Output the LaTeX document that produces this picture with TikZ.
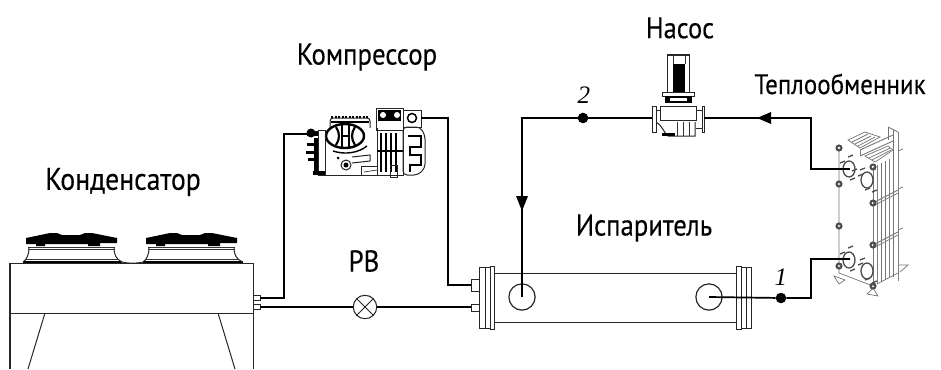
\documentclass[tikz,border=0pt]{standalone}
\usepackage{fontspec}
\setmainfont[FakeStretch=0.89,FakeBold=0.25]{PT Sans}
\newfontfamily\numfont{Liberation Serif}
\usepackage{tikz}
\usetikzlibrary{positioning,arrows}
\tikzset{
  pipe/.style={black,line width=1.7pt},
  part/.style={black!85,line width=1pt},
  fine/.style={black!80,line width=0.7pt},
  plate/.style={black!55,line width=0.7pt},
  rib/.style={black!50,line width=1pt},
  stud/.style={black!70,line width=1.3pt},
  boltnut/.style={black!70,line width=2pt},
  caption/.style={font=\fontsize{#1}{32}\selectfont},
  numlabel/.style={font=\numfont\itshape\fontsize{25}{29}\selectfont},
  junction/.style={circle,fill=black,minimum size=0.37cm},
  portcircle/.style={circle,draw=black!85,line width=1.2pt,minimum size=0.92cm},
  valvecircle/.style={circle,draw=black!85,line width=1pt,minimum size=0.82cm}
}
\begin{document}
\begin{tikzpicture}[x=0.035cm,y=0.035cm]
\tikzstyle{every node}+=[inner sep=0pt]
\useasboundingbox (0,0) rectangle (941,-369);
% captions
\draw (123,-182) node [caption=31] (kond) {Конденсатор};
\draw (367,-57) node [caption=30] (komp) {Компрессор};
\draw (680,-28) node [caption=29.5] (nasos) {Насос};
\draw (840,-84) node [caption=28] (teplo) {Теплообменник};
\draw (644,-228) node [caption=30] (isp) {Испаритель};
\draw (364,-261) node [caption=30] (rvtext) {РВ};
\draw (584,-95) node [numlabel] (num2) {2};
\draw (781,-277) node [numlabel] (num1) {1};
% condenser
\draw [part] (10,-369) -- (10,-263) -- (253,-263) -- (253,-369);
\draw [part] (10,-313) -- (253,-313);
\draw [part] (45,-313) -- (28,-369);
\draw [part] (218,-313) -- (235,-369);
\draw [part] (253,-295) rectangle (260,-300);
\draw [part] (253,-304) rectangle (260,-309);
\draw [black,line width=1.6pt] (23,-262) -- (122,-262);
\draw [black,line width=1.6pt] (143,-262) -- (243,-262);
\draw [part] (122,-262) .. controls (127,-263.5) and (138,-263.5) .. (143,-262);
% first fan
\fill [black] (26,-238) -- (50,-233) -- (57,-233) -- (62,-235) -- (80,-235) -- (85,-233) -- (92,-233) -- (117,-238) -- (117,-243) -- (100,-243) -- (100,-246) -- (88,-246) -- (88,-244) -- (45,-244) -- (45,-246) -- (36,-246) -- (36,-244) -- (26,-244) -- cycle;
\draw [fine] (28,-247) -- (115,-247);
\draw [part] (29,-247) .. controls (29,-255) and (27,-259) .. (23,-262);
\draw [part] (114,-247) .. controls (114,-255) and (116,-259) .. (122,-262);
\draw [fine] (28,-249) -- (115,-249);
\draw [fine] (26,-259) -- (118,-259);
% second fan
\fill [black] (146,-238) -- (170,-233) -- (177,-233) -- (182,-235) -- (200,-235) -- (205,-233) -- (212,-233) -- (237,-238) -- (237,-243) -- (220,-243) -- (220,-246) -- (208,-246) -- (208,-244) -- (165,-244) -- (165,-246) -- (156,-246) -- (156,-244) -- (146,-244) -- cycle;
\draw [fine] (148,-247) -- (235,-247);
\draw [part] (149,-247) .. controls (149,-255) and (147,-259) .. (143,-262);
\draw [part] (234,-247) .. controls (234,-255) and (236,-259) .. (243,-262);
\draw [fine] (148,-249) -- (235,-249);
\draw [fine] (146,-259) -- (238,-259);
% compressor
\draw [part] (325,-130) -- (325,-175) -- (377,-175);
\draw [part] (377,-175) -- (377,-128);
\draw [part,rounded corners=3pt] (330,-128) -- (330,-118) -- (370,-118) -- (370,-128);
\draw [black,line width=2pt,dash pattern=on 2pt off 1.5pt] (331,-117) -- (369,-117);
\draw [black,line width=1.4pt] (331,-122) -- (369,-122);
\draw [black,line width=2.4pt] (345,-136) ellipse (19 and 12);
\draw [black,line width=2.2pt] (336,-127) .. controls (340,-133) and (340,-139) .. (336,-145);
\draw [black,line width=2.2pt] (355,-127) .. controls (351,-133) and (351,-139) .. (355,-145);
\draw [black,line width=1.6pt] (342,-125) -- (342,-147);
\draw [black,line width=1.6pt] (349,-125) -- (349,-147);
\draw [black,line width=1.6pt] (342,-136) -- (349,-136);
\draw [black,line width=1.4pt] (333,-151) .. controls (345,-155) and (358,-153) .. (367,-146);
\draw [part] (346,-165) circle (5);
\fill [black] (346,-165) circle (2.5);
\draw [part] (352,-157) -- (370,-155) -- (370,-161) -- (352,-163);
\fill [black] (338,-158) circle (1.5);
\draw [part] (361,-175) -- (361,-166) -- (377,-166);
\draw [fine] (364,-172) -- (377,-170);
\draw [part] (318,-130) rectangle (325,-175);
\fill [black] (307,-131) rectangle (318,-136);
\fill [black] (311,-133) circle (4.5);
\fill [black] (314,-138) rectangle (318,-175);
\fill [black] (307,-143) rectangle (316,-146);
\fill [black] (306,-151) rectangle (316,-154);
\fill [black] (308,-158) rectangle (316,-161);
\fill [black] (313,-171) rectangle (325,-175);
\draw [part] (376,-108) rectangle (403,-130);
\fill [black] (378,-110) rectangle (401,-121);
\fill [white] (383,-115) circle (3);
\fill [white] (397,-115) circle (3);
\draw [part] (403,-110) rectangle (421,-127);
\draw [black,line width=1.5pt] (412,-118) circle (4.5);
\draw [part] (377,-130) rectangle (403,-175);
\draw [black,line width=1.3pt] (381,-133) -- (381,-172);
\draw [black,line width=1.3pt] (386,-133) -- (386,-172);
\draw [black,line width=1.3pt] (391,-133) -- (391,-172);
\draw [black,line width=1.3pt] (396,-133) -- (396,-172);
\draw [black,line width=1.3pt] (377,-151) -- (403,-151);
\draw [part] (390,-165) rectangle (397,-177);
\draw [part,rounded corners=4pt] (403,-127) -- (420,-127) -- (425,-135) -- (425,-168) -- (418,-175) -- (403,-175) -- cycle;
\draw [black,line width=1.3pt] (408,-136) -- (421,-136) -- (421,-147) -- (410,-147) -- (410,-155) -- (421,-155) -- (421,-165) -- (410,-165) -- (410,-172);
% evaporator
\draw [part] (494,-273) -- (736,-273);
\draw [part] (494,-322) -- (736,-322);
\draw [part] (479,-267) rectangle (490,-328);
\draw [part] (490,-266) rectangle (494,-329);
\draw [part] (485,-267) -- (485,-328);
\draw [part] (736,-266) rectangle (741,-329);
\draw [part] (741,-267) rectangle (751,-328);
\draw [part] (746,-267) -- (746,-328);
\draw [part] (471,-279) rectangle (479,-291);
\draw [part] (471,-304) rectangle (479,-311);
\node [portcircle] (evleft) at (522,-297) {};
\node [portcircle] (evright) at (709,-297) {};
% pump
\draw [part] (667,-55) rectangle (689,-92);
\fill [black] (673,-64) rectangle (685,-92);
\draw [fine] (673,-55) -- (673,-64);
\draw [fine] (685,-55) -- (685,-64);
\draw [part] (662,-92) rectangle (694,-96);
\fill [black] (665,-96) rectangle (692,-103);
\fill [white] (670,-98) rectangle (687,-101);
\draw [part] (660,-106) rectangle (696,-120);
\draw [part] (652,-106) rectangle (656,-132);
\draw [part] (702,-106) rectangle (704,-132);
\draw [part] (656,-110) -- (660,-110);
\draw [part] (696,-110) -- (702,-110);
\draw [part] (696,-128) -- (702,-128);
\draw [part] (656,-122) .. controls (662,-125) and (664,-133) .. (668,-136) -- (695,-136) -- (695,-122);
\fill [black] (662,-133) rectangle (675,-136);
\draw [fine] (677,-122) -- (677,-136);
\draw [fine] (683,-122) -- (683,-136);
\draw [fine] (689,-122) -- (689,-136);
% heat exchanger
\draw [plate] (839,-148) -- (839,-273) -- (873,-286);
\draw [plate] (873,-167) -- (873,-286);
\draw [rib] (877,-165) -- (877,-284);
\draw [plate] (881,-163) -- (881,-282);
\draw [plate] (885,-161) -- (885,-280);
\draw [rib] (889,-159) -- (889,-278);
\draw [plate] (893,-130) -- (893,-277);
\draw [rib] (898,-132) -- (898,-281);
\draw [plate] (888,-127) -- (888,-140);
\draw [plate] (888,-127) -- (898,-132);
\draw [plate] (877,-284) -- (898,-273);
% top bars
\draw [plate] (848,-140) -- (865,-132) -- (880,-137) -- (860,-148) -- cycle;
\draw [plate] (852,-142) -- (868,-134);
\draw [plate] (855,-144) -- (871,-136);
\draw [plate] (858,-146) -- (875,-137);
\draw [rib] (860,-150) -- (893,-135);
\draw [rib] (860,-156) -- (893,-141);
\draw [rib] (860,-150) -- (860,-156);
\draw [plate] (865,-156) -- (888,-146) -- (893,-150) -- (875,-162) -- cycle;
\draw [plate] (869,-158) -- (890,-148);
\draw [plate] (872,-160) -- (891,-150);
\draw [rib] (873,-203) -- (898,-190);
\draw [plate] (873,-206) -- (898,-193);
\draw [rib] (873,-245) -- (898,-232);
\draw [plate] (873,-248) -- (898,-235);
\draw [plate] (898,-265) -- (908,-265) -- (900,-272);
\draw [plate] (834,-276) -- (845,-280) -- (839,-284) -- cycle;
\draw [plate] (867,-294) -- (878,-296) -- (873,-288) -- cycle;
\draw [plate] (898,-151) -- (903,-149);
\draw [plate] (898,-189) -- (903,-187);
\draw [plate] (898,-230) -- (903,-228);
% ports
\draw [stud] (849,-169) ellipse (6 and 8);
\draw [stud] (867,-180) ellipse (6 and 8);
\draw [stud] (849,-260) ellipse (6 and 8);
\draw [stud] (867,-271) ellipse (6 and 8);
\draw [stud] (840,-163) -- (845,-161);
\draw [stud] (848,-157) -- (853,-155);
\draw [stud] (850,-180) -- (855,-178);
\draw [stud] (858,-176) -- (863,-174);
\draw [stud] (852,-171) -- (857,-169);
\draw [stud] (860,-170) -- (865,-168);
\draw [stud] (872,-192) -- (877,-190);
\draw [stud] (865,-190) -- (870,-188);
\draw [stud] (840,-254) -- (845,-252);
\draw [stud] (848,-248) -- (853,-246);
\draw [stud] (850,-271) -- (855,-269);
\draw [stud] (858,-265) -- (863,-263);
\draw [stud] (860,-260) -- (865,-258);
\draw [stud] (872,-283) -- (877,-281);
\draw [stud] (865,-280) -- (870,-278);
% bolts
\draw [boltnut] (839,-148) circle (2.5);
\draw [boltnut] (839,-184) circle (2.5);
\draw [boltnut] (839,-226) circle (2.5);
\draw [boltnut] (839,-266) circle (2.5);
\draw [boltnut] (873,-167) circle (2.5);
\draw [boltnut] (873,-203) circle (2.5);
\draw [boltnut] (873,-245) circle (2.5);
\draw [boltnut] (873,-286) circle (2.5);
% pipe points
\coordinate (condtop) at (260,-298);
\coordinate (condlow) at (260,-307);
\coordinate (bendA) at (284,-298);
\coordinate (bendB) at (284,-134);
\coordinate (compin) at (307,-134);
\coordinate (compout) at (421,-118);
\coordinate (bendC) at (448,-118);
\coordinate (bendD) at (448,-285);
\coordinate (evin) at (471,-285);
\coordinate (evlow) at (471,-307);
\coordinate (bendE) at (522,-118);
\coordinate (pumpin) at (652,-118);
\coordinate (pumpout) at (704,-118);
\coordinate (bendF) at (811,-118);
\coordinate (bendG) at (811,-169);
\coordinate (hxtop) at (850,-169);
\coordinate (bendH) at (811,-298);
\coordinate (bendI) at (811,-259);
\coordinate (hxlow) at (850,-259);
\node [junction] (pt2) at (583,-118) {};
\node [junction] (pt1) at (781,-298) {};
\node [valvecircle] (rv) at (365,-307) {};
% pipes
\draw [pipe] (condtop) -- (bendA) -- (bendB) -- (compin);
\draw [pipe] (compout) -- (bendC) -- (bendD) -- (evin);
\draw [pipe] (condlow) -- (rv) -- (evlow);
\draw [part] (rv.north west) -- (rv.south east);
\draw [part] (rv.north east) -- (rv.south west);
\draw [pipe] (evleft.center) -- (bendE) -- (pt2) -- (pumpin);
\draw [pipe] (pumpout) -- (bendF) -- (bendG) -- (hxtop);
\draw [pipe] (evright.center) -- (pt1) -- (bendH) -- (bendI) -- (hxlow);
\fill [black] (522,-211) -- (516,-196) -- (528,-196);
\fill [black] (757,-118) -- (771,-112) -- (771,-124);
\end{tikzpicture}
\end{document}
